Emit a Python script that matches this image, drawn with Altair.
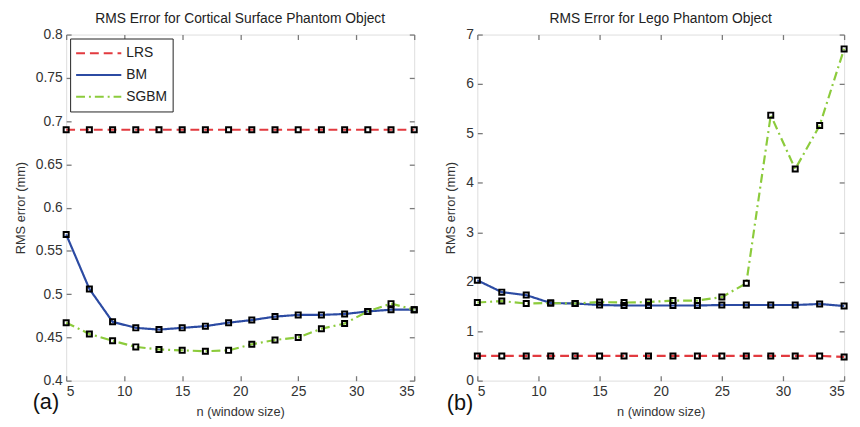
import altair as alt
import pandas as pd

n = [5, 7, 9, 11, 13, 15, 17, 19, 21, 23, 25, 27, 29, 31, 33, 35]

a_lrs = [0.69, 0.69, 0.69, 0.69, 0.69, 0.69, 0.69, 0.69, 0.69, 0.69, 0.69, 0.69, 0.69, 0.69, 0.69, 0.69]
a_bm = [0.569, 0.506, 0.468, 0.461, 0.459, 0.461, 0.463, 0.467, 0.470, 0.474, 0.476, 0.476, 0.477, 0.480, 0.482, 0.482]
a_sgbm = [0.467, 0.454, 0.446, 0.439, 0.436, 0.435, 0.434, 0.435, 0.442, 0.447, 0.450, 0.460, 0.466, 0.480, 0.489, 0.482]

b_lrs = [0.50, 0.50, 0.50, 0.50, 0.50, 0.50, 0.50, 0.50, 0.50, 0.50, 0.50, 0.50, 0.50, 0.50, 0.50, 0.48]
b_bm = [2.03, 1.79, 1.73, 1.57, 1.56, 1.53, 1.52, 1.52, 1.52, 1.52, 1.53, 1.53, 1.53, 1.53, 1.55, 1.51]
b_sgbm = [1.58, 1.61, 1.56, 1.57, 1.56, 1.59, 1.58, 1.59, 1.62, 1.62, 1.69, 1.97, 5.37, 4.28, 5.16, 6.71]

series = ["LRS", "BM", "SGBM"]
colors = ["#e23a3f", "#2c4ba3", "#8ccb3c"]
dashes = [[9, 5], [1, 0], [9, 4, 2, 4]]
x_ticks = [5, 10, 15, 20, 25, 30, 35]
a_ticks = [0.4, 0.45, 0.5, 0.55, 0.6, 0.65, 0.7, 0.75, 0.8]
b_ticks = [0, 1, 2, 3, 4, 5, 6, 7]

FONT = "Liberation Sans"
TICK = 5
FRAME = "#7a7a7a"


def panel(lrs, bm, sgbm, title, ydom, yticks, yfmt, letter, w, h, lx, ly):
    rows = []
    for name, vals in zip(series, [lrs, bm, sgbm]):
        for xv, yv in zip(n, vals):
            rows.append({"n": xv, "v": yv, "series": name})
    df = pd.DataFrame(rows)
    xs = alt.Scale(domain=[5, 35], nice=False, zero=False)
    ys = alt.Scale(domain=ydom, nice=False, zero=False)
    ax_common = dict(offset=-TICK, tickSize=TICK, domain=False, tickColor=FRAME, tickWidth=1.3,
                     labelFont=FONT, labelFontSize=14, labelColor="#333333",
                     titleFont=FONT, titleFontSize=13, titleFontWeight="normal", titleColor="#333333",
                     grid=False)
    line = alt.Chart(df).mark_line(strokeWidth=2.2).encode(
        x=alt.X("n:Q", scale=xs, axis=alt.Axis(orient="bottom", values=x_ticks, title="n (window size)",
                                               labelPadding=4, titlePadding=7, **ax_common)),
        y=alt.Y("v:Q", scale=ys, axis=alt.Axis(orient="left", values=yticks, format=yfmt, title="RMS error (mm)",
                                               labelPadding=4, titlePadding=8, **ax_common)),
        color=alt.Color("series:N", sort=series,
                        scale=alt.Scale(domain=series, range=colors),
                        legend=alt.Legend(orient="top-left", title=None, offset=4,
                                          fillColor="white", strokeColor="#222222", padding=5,
                                          symbolType="stroke", symbolSize=2100, symbolStrokeWidth=2,
                                          clipHeight=20, labelFont=FONT, labelFontSize=14,
                                          labelColor="#222222", labelOffset=4)),
        strokeDash=alt.StrokeDash("series:N", sort=series,
                                  scale=alt.Scale(domain=series, range=dashes), legend=None),
        order=alt.Order("n:Q"),
    )
    pts = alt.Chart(df).mark_point(shape="square", filled=False, color="black",
                                   strokeWidth=2, size=26, opacity=1).encode(
        x=alt.X("n:Q", scale=xs, axis=alt.Axis(orient="top", values=x_ticks, labels=False, title=None,
                                               **ax_common)),
        y=alt.Y("v:Q", scale=ys, axis=alt.Axis(orient="right", values=yticks, labels=False, title=None,
                                               **ax_common)),
    )
    lab = alt.Chart(pd.DataFrame({"t": [letter]})).mark_text(
        align="left", baseline="middle", font=FONT, fontSize=22, color="#111111"
    ).encode(text="t:N", x=alt.value(lx), y=alt.value(ly))
    return alt.layer(line, pts, lab).resolve_axis(x="independent", y="independent").properties(
        width=w, height=h,
        title=alt.TitleParams(title, font=FONT, fontSize=14, fontWeight="normal", color="#222222", offset=2),
    )


left = panel(a_lrs, a_bm, a_sgbm, "RMS Error for Cortical Surface Phantom Object",
             [0.4, 0.8], a_ticks, ".2~f", "(a)", 353, 351, -34, 373)
right = panel(b_lrs, b_bm, b_sgbm, "RMS Error for Lego Phantom Object",
              [0, 7], b_ticks, "d", "(b)", 372, 351, -31, 374)

chart = alt.hconcat(left, right, spacing=22).properties(
    padding={"left": 6, "top": 0, "right": 0, "bottom": 0}
).configure_view(stroke=FRAME, strokeWidth=1.5).configure(background="white")

chart.save("out.html", embed_options={"renderer": "svg", "actions": False})
